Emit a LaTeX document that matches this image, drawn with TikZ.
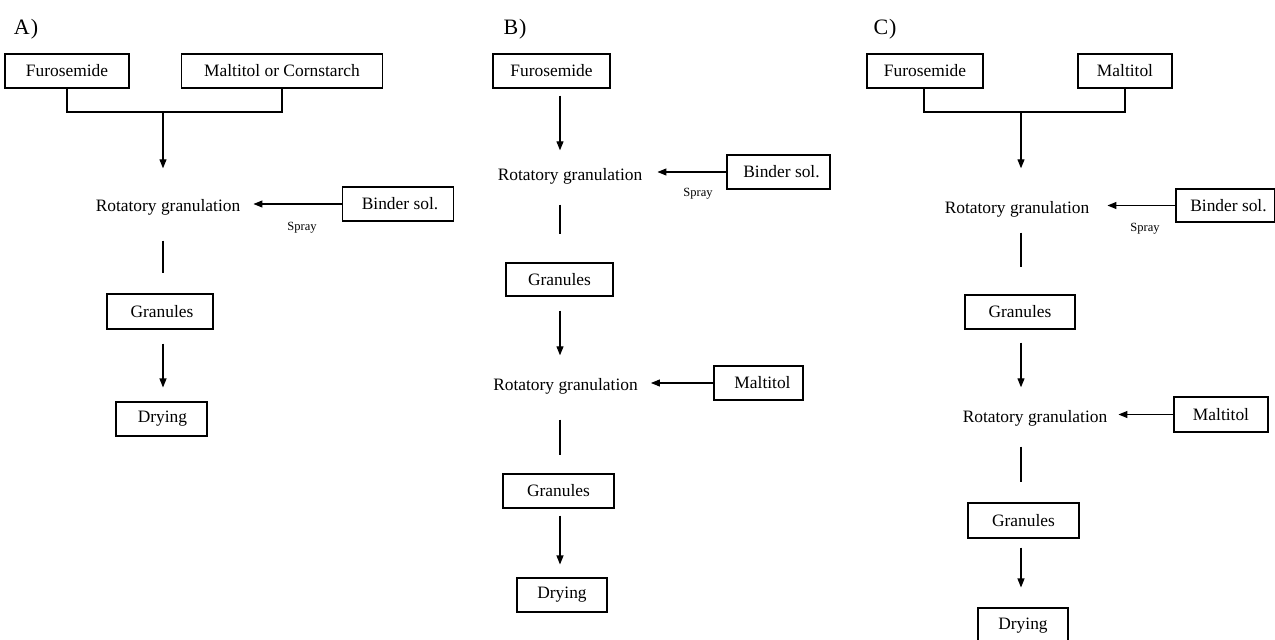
\documentclass[tikz,border=0pt]{standalone}
\usepackage{fontspec}
\setmainfont{Liberation Serif}
\usetikzlibrary{arrows.meta}
\tikzset{
  box/.style={draw, line width=1.1pt, inner sep=0pt, font=\fontsize{17.4}{20}\selectfont},
  proc/.style={inner sep=0pt, text height=11pt, text depth=4pt, font=\fontsize{17.4}{20}\selectfont},
  lab/.style={inner sep=0pt, font=\fontsize{22}{26}\selectfont},
  spr/.style={inner sep=0pt, font=\fontsize{12.5}{14}\selectfont},
  ln/.style={line width=1.1pt},
  arr/.style={line width=1.1pt, -{Triangle[length=9pt,width=7pt]}}
}
\begin{document}
\begin{tikzpicture}[x=1pt,y=-1pt]
\useasboundingbox (0,0) rectangle (1275,640);
\fill[white] (0,0) rectangle (1275,640);

% ---------------- Panel A ----------------
\node[lab] (labA) at (26,29) {A\kern1pt)};
\node[box, minimum width=124pt, minimum height=34pt] (fA) at (67,71) {Furosemide};
\node[box, minimum width=201pt, minimum height=34pt] (mA) at (282,71) {Maltitol or Cornstarch};
\coordinate (forkA) at (163,112);
\node[proc] (rgA) at (168,208) {Rotatory granulation};
\node[box, minimum width=111pt, minimum height=34pt] (bA) at (398,204) {\hspace*{4pt}Binder sol.};
\node[spr] (sA) at (302,228) {Spray};
\node[box, minimum width=106pt, minimum height=35pt] (gA) at (160,311.5) {\hspace*{4pt}Granules};
\node[box, minimum width=91pt, minimum height=34pt] (dA) at (161.5,419) {\hspace*{2pt}Drying};

\draw[ln] (fA.south) |- (forkA) -| (mA.south);
\draw[arr, shorten >=32pt] (forkA) -- (forkA |- rgA.north);
\draw[arr, shorten >=13pt] (bA.west) -- (rgA.east |- bA.west);
\draw[ln, shorten <=25pt, shorten >=20pt] (forkA |- rgA.south) -- (forkA |- gA.north);
\draw[arr, shorten <=14pt, shorten >=14pt] (forkA |- gA.south) -- (forkA |- dA.north);

% ---------------- Panel B ----------------
\node[lab] (labB) at (515,29) {B\kern1pt)};
\node[box, minimum width=117pt, minimum height=34pt] (fB) at (551.5,71) {Furosemide};
\node[proc] (rgB) at (570,177) {Rotatory granulation};
\node[box, minimum width=103pt, minimum height=34pt] (bB) at (778.5,172) {\hspace*{6pt}Binder sol.};
\node[spr] (sB) at (698,194) {Spray};
\node[box, minimum width=107pt, minimum height=33pt] (gB1) at (559.5,279.5) {Granules};
\node[proc] (rgB2) at (565.5,387) {Rotatory granulation};
\node[box, minimum width=89pt, minimum height=34pt] (mB) at (758.5,383) {\hspace*{8pt}Maltitol};
\node[box, minimum width=111pt, minimum height=34pt] (gB2) at (558.5,491) {Granules};
\node[box, minimum width=90pt, minimum height=34pt] (dB) at (562,595) {Drying};
\coordinate (axB) at (560,0);

\draw[arr, shorten <=7pt, shorten >=19pt] (axB |- fB.south) -- (axB |- rgB.north);
\draw[arr, shorten >=15pt] (bB.west) -- (rgB.east |- bB.west);
\draw[ln, shorten <=20pt, shorten >=28pt] (axB |- rgB.south) -- (axB |- gB1.north);
\draw[arr, shorten <=14pt, shorten >=24pt] (axB |- gB1.south) -- (axB |- rgB2.north);
\draw[arr, shorten >=13pt] (mB.west) -- (rgB2.east |- mB.west);
\draw[ln, shorten <=25pt, shorten >=18pt] (axB |- rgB2.south) -- (axB |- gB2.north);
\draw[arr, shorten <=7pt, shorten >=13pt] (axB |- gB2.south) -- (axB |- dB.north);

% ---------------- Panel C ----------------
\node[lab] (labC) at (885,29) {C\kern1pt)};
\node[box, minimum width=116pt, minimum height=34pt] (fC) at (925,71) {Furosemide};
\node[box, minimum width=94pt, minimum height=34pt] (mC) at (1125,71) {Maltitol};
\coordinate (forkC) at (1021,112);
\node[proc] (rgC) at (1017,210) {Rotatory granulation};
\node[box, minimum width=99pt, minimum height=33pt] (bC) at (1225.5,205.5) {\hspace*{6pt}Binder sol.};
\node[spr] (sC) at (1145,229) {Spray};
\node[box, minimum width=110pt, minimum height=34pt] (gC1) at (1020,312) {Granules};
\node[proc] (rgC2) at (1035,419) {Rotatory granulation};
\node[box, minimum width=94pt, minimum height=35pt] (mC2) at (1221,414.5) {Maltitol};
\node[box, minimum width=111pt, minimum height=35pt] (gC2) at (1023.5,520.5) {Granules};
\node[box, minimum width=90pt, minimum height=36pt] (dC) at (1023,626) {Drying};

\draw[ln] ([xshift=-1pt]fC.south) |- (forkC) -| (mC.south);
\draw[arr, shorten >=34pt] (forkC) -- (forkC |- rgC.north);
\draw[arr, shorten >=18pt] (bC.west) -- (rgC.east |- bC.west);
\draw[ln, shorten <=15pt, shorten >=27pt] (forkC |- rgC.south) -- (forkC |- gC1.north);
\draw[arr, shorten <=13pt, shorten >=24pt] (forkC |- gC1.south) -- (forkC |- rgC2.north);
\draw[arr, shorten >=11pt] (mC2.west) -- (rgC2.east |- mC2.west);
\draw[ln, shorten <=20pt, shorten >=20pt] (forkC |- rgC2.south) -- (forkC |- gC2.north);
\draw[arr, shorten <=9pt, shorten >=20pt] (forkC |- gC2.south) -- (forkC |- dC.north);
\end{tikzpicture}
\end{document}
